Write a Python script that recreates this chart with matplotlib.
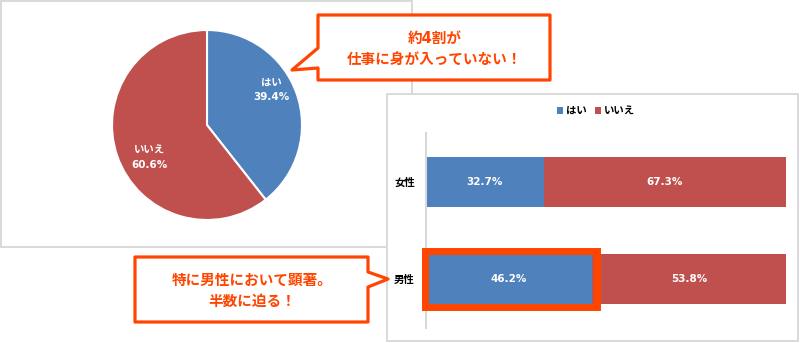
import matplotlib.pyplot as plt
from matplotlib.patches import Rectangle, Polygon

plt.rcParams['font.family'] = ['DejaVu Sans', 'Noto Sans CJK JP']

# data
pie_labels = ["はい", "いいえ"]
pie_values = [39.4, 60.6]
groups = ["男性", "女性"]
yes_values = [46.2, 32.7]
no_values = [53.8, 67.3]

BLUE = "#4F81BD"
RED = "#C0504D"
ORANGE = "#FF4500"
GREY = "#D9D9D9"
W, H = 800, 343

fig = plt.figure(figsize=(W / 100, H / 100), dpi=100)


def px_axes(left, top, width, height, z):
    # axes placed in pixel units (y measured from the top)
    return fig.add_axes([left / W, 1 - (top + height) / H, width / W, height / H], zorder=z)


def overlay(z):
    a = px_axes(0, 0, W, H, z)
    a.set_xlim(0, W)
    a.set_ylim(H, 0)
    a.axis("off")
    a.patch.set_alpha(0)
    return a


# pie panel frame
bg = overlay(0)
bg.add_patch(Rectangle((1, 1), 411, 246, facecolor="white", edgecolor=GREY, lw=1.4))

# pie chart
axp = px_axes(112, 30, 190, 190, 1)
axp.pie(pie_values, colors=[BLUE, RED], startangle=90, counterclock=False,
        wedgeprops=dict(edgecolor="white", linewidth=1.5))
axp.set_xlim(-1, 1)
axp.set_ylim(-1, 1)
label_pos = [(0.68, 0.37), (-0.60, -0.34)]
for lab, val, (lx, ly) in zip(pie_labels, pie_values, label_pos):
    axp.text(lx, ly, f"{lab}\n{val:.1f}%", ha="center", va="center", color="white",
             fontsize=7.5, fontweight="bold", linespacing=1.6)

# bar panel frame
bg2 = overlay(2)
bg2.add_patch(Rectangle((387, 94), 411, 247, facecolor="white", edgecolor=GREY, lw=1.4))

# stacked bar chart
axb = px_axes(426, 133, 360, 195, 3)
ypos = list(range(len(groups)))
b1 = axb.barh(ypos, yes_values, height=0.515, color=BLUE, label="はい")
b2 = axb.barh(ypos, no_values, left=yes_values, height=0.515, color=RED, label="いいえ")
axb.bar_label(b1, labels=[f"{v:.1f}%" for v in yes_values], label_type="center",
              color="white", fontsize=7.5, fontweight="bold")
axb.bar_label(b2, labels=[f"{v:.1f}%" for v in no_values], label_type="center",
              color="white", fontsize=7.5, fontweight="bold")
axb.set_xlim(0, 100)
axb.set_ylim(-0.505, 1.505)
axb.set_yticks(ypos, groups, fontsize=7.5, fontweight="bold")
axb.tick_params(axis="y", length=0, pad=8)
axb.set_xticks([])
for s in ["top", "right", "bottom"]:
    axb.spines[s].set_visible(False)
axb.spines["left"].set_color(GREY)
axb.spines["left"].set_linewidth(1.5)
axb.patch.set_alpha(0)
axb.legend(loc="center", bbox_to_anchor=(596 / W, 1 - 111 / H), bbox_transform=fig.transFigure,
           ncol=2, frameon=False, handlelength=0.6, handleheight=0.6, handletextpad=0.3,
           columnspacing=0.8, prop=dict(size=7.5, weight="bold"))

# highlight around the male "はい" segment
axb.add_patch(Rectangle((-0.4, -0.29), yes_values[0] + 1.6, 0.58, fill=False,
                        edgecolor=ORANGE, lw=5, clip_on=False, zorder=5))

# callouts
ov = overlay(4)
ov.add_patch(Polygon([(318, 15), (550, 15), (550, 80), (318, 80), (318, 68), (292, 70), (318, 48)],
                     closed=True, facecolor="white", edgecolor=ORANGE, lw=2.3, joinstyle="round"))
ov.text(435, 49, "約4割が\n仕事に身が入っていない！", ha="center", va="center", color=ORANGE,
        fontsize=10.5, fontweight="bold", linespacing=1.45)
ov.add_patch(Polygon([(135, 257), (368, 257), (368, 272), (388, 279), (368, 287), (368, 322), (135, 322)],
                     closed=True, facecolor="white", edgecolor=ORANGE, lw=2.3, joinstyle="round"))
ov.text(252, 291, "特に男性において顕著。\n半数に迫る！", ha="center", va="center", color=ORANGE,
        fontsize=10.5, fontweight="bold", linespacing=1.45)

fig.savefig("out.png", dpi=100)
